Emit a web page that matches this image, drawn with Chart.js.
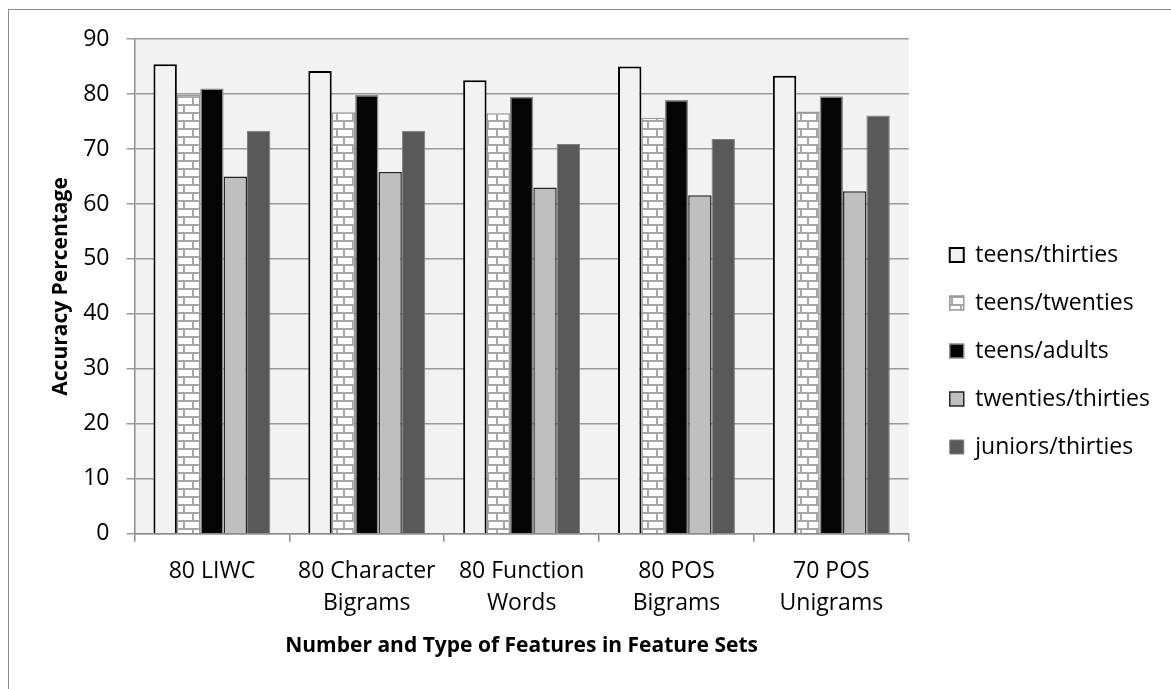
<!DOCTYPE html>
<html>
<head>
<meta charset="utf-8">
<script src="https://cdn.jsdelivr.net/npm/chart.js@4.4.1/dist/chart.umd.min.js"></script>
<style>
    body { margin: 0; background: #ffffff; }
    #wrap { width: 1171px; height: 689px; }
</style>
</head>
<body>
<div id="wrap"><canvas id="myChart" width="1171" height="689"></canvas></div>
<script>
// data
var featureSets = [["80 LIWC"], ["80 Character", "Bigrams"], ["80 Function", "Words"], ["80 POS", "Bigrams"], ["70 POS", "Unigrams"]]
var seriesNames = ["teens/thirties", "teens/twenties", "teens/adults", "twenties/thirties", "juniors/thirties"]
var teensThirties = [85.4, 84.2, 82.5, 85.0, 83.3]
var teensTwenties = [79.8, 76.7, 76.5, 75.7, 76.8]
var teensAdults = [81.0, 79.8, 79.5, 78.9, 79.6]
var twentiesThirties = [65.0, 65.8, 63.0, 61.6, 62.3]
var juniorsThirties = [73.3, 73.3, 70.9, 71.8, 76.1]
var yTicks = [0, 10, 20, 30, 40, 50, 60, 70, 80, 90]

var fontName = "'Open Sans'"

// murstens-mønster til teens/twenties
function brickPattern() {
    var c = document.createElement("canvas")
    c.width = 16
    c.height = 16
    var g = c.getContext("2d")
    g.fillStyle = "#a6a6a6"
    g.fillRect(0, 0, 16, 16)
    g.fillStyle = "#ffffff"
    g.fillRect(2, 2, 14, 6)
    g.fillRect(0, 10, 7, 6)
    g.fillRect(9, 10, 7, 6)
    return document.getElementById("myChart").getContext("2d").createPattern(c, "repeat")
}

// grå baggrund i plotområdet + ramme om hele figuren
var bgPlugin = {
    id: "bgPlugin",
    afterLayout: function (chart) {
        // skubber legend lidt til højre, væk fra plotområdet
        chart.legend.left += 16
        chart.legend.right += 16
    },
    beforeDraw: function (chart) {
        var ctx = chart.ctx
        var a = chart.chartArea
        ctx.save()
        ctx.fillStyle = "#ffffff"
        ctx.fillRect(0, 0, chart.width, chart.height)
        ctx.strokeStyle = "#8c8c8c"
        ctx.lineWidth = 1
        ctx.strokeRect(8.5, 9.5, 1300, 800)
        ctx.fillStyle = "#f2f2f2"
        ctx.fillRect(a.left, a.top, a.right - a.left, a.bottom - a.top)
        ctx.restore()
    }
}

var chart = new Chart(document.getElementById("myChart").getContext("2d"), {
    type: "bar",
    data: {
        labels: featureSets,
        datasets: [
            { label: seriesNames[0], data: teensThirties, backgroundColor: "#f2f2f2", borderColor: "#000000", borderWidth: 2 },
            { label: seriesNames[1], data: teensTwenties, backgroundColor: brickPattern(), borderColor: "#999999", borderWidth: 1.5 },
            { label: seriesNames[2], data: teensAdults, backgroundColor: "#050505", borderColor: "#8c8c8c", borderWidth: 1.5 },
            { label: seriesNames[3], data: twentiesThirties, backgroundColor: "#bfbfbf", borderColor: "#262626", borderWidth: 1.5 },
            { label: seriesNames[4], data: juniorsThirties, backgroundColor: "#595959", borderColor: "#7f7f7f", borderWidth: 1 }
        ]
    },
    options: {
        responsive: false,
        animation: false,
        maintainAspectRatio: false,
        layout: { padding: { top: 39, left: 40, right: 27, bottom: 26 } },
        datasets: { bar: { categoryPercentage: 0.755, barPercentage: 1.0, borderSkipped: "start" } },
        plugins: {
            tooltip: { enabled: false },
            legend: {
                position: "right",
                labels: {
                    color: "#000000",
                    font: { family: fontName, size: 23 },
                    boxWidth: 14,
                    boxHeight: 14,
                    padding: 25
                }
            }
        },
        scales: {
            x: {
                grid: { offset: true, drawOnChartArea: false, drawTicks: true, tickLength: 8, color: "#8c8c8c", lineWidth: 1.5 },
                border: { color: "#8c8c8c", width: 1.5 },
                ticks: { color: "#000000", font: { family: fontName, size: 23, lineHeight: 1.39 }, padding: 14, maxRotation: 0, autoSkip: false },
                title: { display: true, text: "Number and Type of Features in Feature Sets", color: "#000000", font: { family: fontName, size: 21, weight: "bold" }, padding: { top: 0, bottom: 4 } }
            },
            y: {
                min: 0,
                max: 90,
                afterBuildTicks: function (s) { s.ticks = yTicks.map(function (v) { return { value: v } }) },
                grid: { color: "#9a9a9a", lineWidth: 1.5, tickLength: 8 },
                border: { color: "#8c8c8c", width: 1.5 },
                ticks: { color: "#000000", font: { family: fontName, size: 23 }, padding: 17 },
                title: { display: true, text: "Accuracy Percentage", color: "#000000", font: { family: fontName, size: 21, weight: "bold" }, padding: { top: 8, bottom: -7 } }
            }
        }
    },
    plugins: [bgPlugin]
});
</script>
</body>
</html>
